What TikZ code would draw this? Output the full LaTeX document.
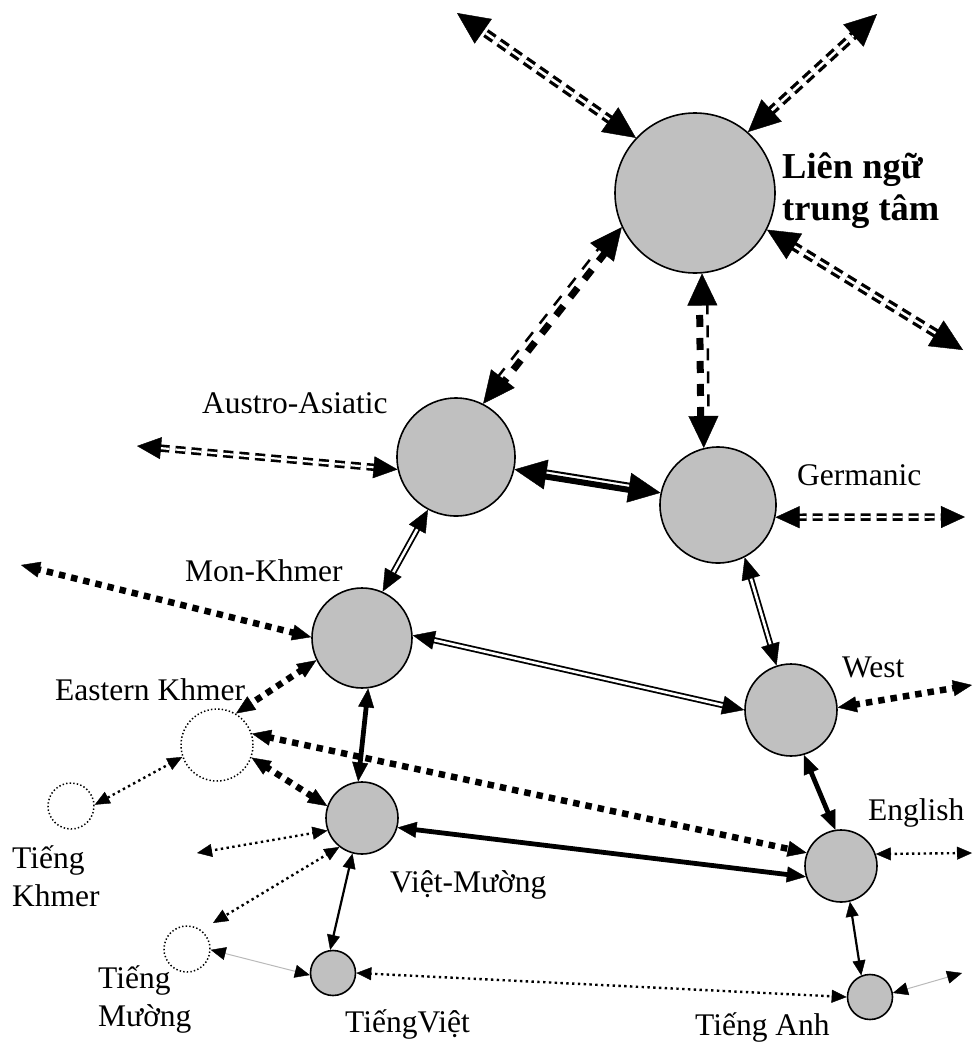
\documentclass[tikz,border=0pt]{standalone}
\usepackage{fontspec}
\setmainfont{Liberation Serif}
\usetikzlibrary{arrows.meta,calc}

\definecolor{nodefill}{RGB}{192,192,192}
\definecolor{faint}{RGB}{185,185,185}

\tikzset{
  lang/.style={circle, draw, line width=1.6pt, fill=nodefill, inner sep=0pt},
  ghost/.style={circle, draw, line width=1.5pt, dash pattern=on 1.4pt off 2.2pt, inner sep=0pt},
  lab/.style={inner sep=0pt, anchor=base west, font=\fontsize{31.5}{36}\selectfont},
  hub/.style={inner sep=0pt, anchor=base west, font=\fontsize{36.5}{42}\selectfont\bfseries},
  tiponly/.style={line width=0.4pt, dash pattern=on 0pt off 4000pt, line cap=butt},
  % line kinds
  ddtop/.style={line width=3.3pt, double=white, double distance=2.6pt, dash pattern=on 10pt off 6pt},
  ddside/.style={line width=2.6pt, double=white, double distance=2.2pt, dash pattern=on 10pt off 6pt},
  dthick/.style={line width=7pt, dash pattern=on 12pt off 11pt},
  dthin/.style={line width=2.5pt, dash pattern=on 12pt off 11pt},
  sthick/.style={line width=6pt},
  sthin/.style={line width=2pt},
  dbl/.style={line width=1.8pt, double=white, double distance=2.6pt},
  thickdot/.style={line width=6.5pt, dash pattern=on 6.5pt off 6pt},
  thindot/.style={line width=2.4pt, dash pattern=on 2.4pt off 3.4pt},
  solidthick/.style={line width=4.8pt},
  solidthin/.style={line width=2.2pt},
  faintline/.style={line width=1pt, draw=faint},
  % arrow tips
  BigT/.tip={Triangle[length=32pt,width=30pt]},
  SideT/.tip={Triangle[length=24pt,width=22pt]},
  DblT/.tip={Triangle[length=22pt,width=19pt]},
  DotT/.tip={Triangle[length=19pt,width=16pt]},
  SmallT/.tip={Triangle[length=15pt,width=13pt]},
}

% connector: line style, tip, shortening, from, to
\newcommand\linkup[5]{%
  \draw[#1, shorten <=#3, shorten >=#3] (#4) -- (#5);
  \draw[tiponly, #2-#2] (#4) -- (#5);}
% one strand running parallel to p--q, offset to the left of p->q
\newcommand\strand[4]{%
  \draw[#1] ($(#3)!#2!90:(#4)$) -- ($(#4)!#2!-90:(#3)$);}

\begin{document}
\begin{tikzpicture}[x=1pt,y=-1pt]
\useasboundingbox (0,0) rectangle (973,1042);

% language nodes
\node[lang, minimum size=160pt] (C) at (695,193) {};
\node[lang, minimum size=118pt] (A) at (456,457) {};
\node[lang, minimum size=116pt] (G) at (718,505) {};
\node[lang, minimum size=100pt] (M) at (362,638) {};
\node[lang, minimum size=92pt] (W) at (791,710) {};
\node[ghost, minimum size=72pt] (E) at (217,745) {};
\node[ghost, minimum size=46pt] (TK) at (71,806) {};
\node[lang, minimum size=72pt] (V) at (362,818) {};
\node[ghost, minimum size=46pt] (TM) at (187,949) {};
\node[lang, minimum size=45pt] (TV) at (333,973) {};
\node[lang, minimum size=72pt] (EN) at (841,866) {};
\node[lang, minimum size=45pt] (TA) at (870,997) {};

% open ends
\coordinate (TL) at (457,13);
\coordinate (TR) at (877,14);
\coordinate (BR) at (963,350);
\coordinate (AL) at (137,446);
\coordinate (GR) at (965,517);
\coordinate (ML) at (21,565);
\coordinate (WR) at (972,685);
\coordinate (ENR) at (972,853);
\coordinate (TAR) at (962,973);
\coordinate (VL) at (197,853);
\coordinate (VLL) at (213,923);

% links of the central node
\linkup{ddtop}{BigT}{29pt}{C.137}{TL}
\linkup{ddtop}{BigT}{29pt}{C.49}{TR}
\linkup{ddtop}{BigT}{29pt}{C.-27}{BR}

\strand{dthick, shorten <=29pt, shorten >=29pt}{2.75pt}{C.-155}{A.63}
\strand{dthin, shorten <=29pt, shorten >=29pt}{5pt}{A.63}{C.-155}
\draw[tiponly, BigT-BigT] (C.-155) -- (A.63);

\strand{dthick, shorten <=29pt, shorten >=29pt}{2.75pt}{G.104}{C.-85}
\strand{dthin, shorten <=29pt, shorten >=29pt}{5pt}{C.-85}{G.104}
\draw[tiponly, BigT-BigT] (C.-85) -- (G.104);

% Austro-Asiatic and Germanic
\strand{sthick, shorten <=28pt, shorten >=28pt}{2.1pt}{G.168}{A.-12}
\strand{sthin, shorten <=28pt, shorten >=28pt}{4.1pt}{A.-12}{G.168}
\draw[tiponly, BigT-BigT] (A.-12) -- (G.168);

\linkup{ddside}{SideT}{21pt}{A.-168}{AL}
\linkup{ddside}{SideT}{21pt}{G.-12}{GR}
\linkup{dbl}{DblT}{19pt}{A.-118}{M.66}
\linkup{dbl}{DblT}{19pt}{G.-63}{W.108}

% Mon-Khmer and West
\linkup{dbl}{DblT}{19pt}{M.3}{W.180}
\linkup{thickdot}{DotT}{16pt}{M.179}{ML}
\linkup{thickdot}{DotT}{16pt}{M.-154}{E.59}
\linkup{solidthick}{DotT}{16pt}{M.-83}{V.96}
\linkup{thickdot}{DotT}{16pt}{W.3}{WR}
\linkup{solidthick}{DotT}{16pt}{W.-74}{EN.99}

% Eastern Khmer and Viet-Muong
\linkup{thindot}{SmallT}{13pt}{E.-161}{TK.3}
\linkup{thickdot}{DotT}{16pt}{E.-20}{V.161}
\linkup{thickdot}{DotT}{16pt}{E.18}{EN.159}
\linkup{solidthick}{DotT}{16pt}{V.-15.5}{EN.-163}
\linkup{thindot}{SmallT}{13pt}{V.-160}{VL}
\linkup{thindot}{SmallT}{13pt}{V.-128}{VLL}
\linkup{solidthin}{SmallT}{13pt}{V.-105}{TV.97}
\linkup{faintline}{SmallT}{13pt}{TM.-2}{TV.-175}

% English and the lowest level
\linkup{thindot}{SmallT}{13pt}{TV.0}{TA.180}
\linkup{thindot}{SmallT}{13pt}{EN.19}{ENR}
\linkup{solidthin}{SmallT}{13pt}{EN.-76}{TA.112}
\linkup{faintline}{SmallT}{13pt}{TA.10}{TAR}

% labels
\node[hub] (hubA) at (782,178) {Liên ngữ};
\node[hub] (hubB) at (782,220) {trung tâm};
\node[lab] (lA) at (202,413) {Austro-Asiatic};
\node[lab] (lG) at (797,485) {Germanic};
\node[lab] (lM) at (185,581) {Mon-Khmer};
\node[lab] (lE) at (55,700) {Eastern Khmer};
\node[lab] (lW) at (842,677) {West};
\node[lab] (lEN) at (868,820) {English};
\node[lab] (lTK1) at (12,868) {Tiếng};
\node[lab] (lTK2) at (12,906) {Khmer};
\node[lab] (lV) at (390,892) {Việt-Mường};
\node[lab] (lTM1) at (98,988) {Tiếng};
\node[lab] (lTM2) at (98,1026) {Mường};
\node[lab] (lTV) at (345,1032) {TiếngViệt};
\node[lab] (lTA) at (695,1035) {Tiếng Anh};
\end{tikzpicture}
\end{document}
